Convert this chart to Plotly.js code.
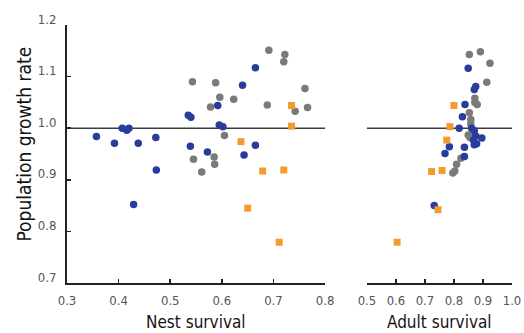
<!DOCTYPE html>
<html>
<head>
<meta charset="utf-8">
<script src="https://cdn.plot.ly/plotly-3.0.1.min.js"></script>
<style>html,body{margin:0;padding:0;background:#fff;}#chart{width:524px;height:333px;}</style>
</head>
<body>
<div id="chart"></div>
<script>
// Nest survival panel
var nestGrayX = [0.691,0.722,0.720,0.543,0.588,0.596,0.623,0.578,0.761,0.688,0.742,0.766,0.605,0.545,0.585,0.586,0.561];
var nestGrayY = [1.151,1.143,1.129,1.090,1.088,1.060,1.056,1.041,1.077,1.045,1.033,1.040,0.986,0.940,0.944,0.930,0.915];
var nestBlueX = [0.357,0.392,0.407,0.420,0.416,0.438,0.472,0.535,0.540,0.592,0.595,0.602,0.640,0.665,0.539,0.572,0.665,0.643,0.473,0.429];
var nestBlueY = [0.984,0.971,1.000,1.000,0.996,0.971,0.982,1.025,1.021,1.044,1.006,1.003,1.083,1.117,0.965,0.954,0.967,0.948,0.919,0.852];
var nestOrangeX = [0.735,0.735,0.637,0.679,0.720,0.650,0.711];
var nestOrangeY = [1.044,1.004,0.974,0.917,0.919,0.845,0.779];

// Adult survival panel
var adultGrayX = [0.853,0.891,0.924,0.913,0.872,0.872,0.880,0.853,0.858,0.858,0.849,0.855,0.824,0.809,0.803,0.796];
var adultGrayY = [1.143,1.148,1.126,1.089,1.058,1.050,1.046,1.030,1.017,1.008,0.987,0.982,0.942,0.930,0.917,0.913];
var adultBlueX = [0.849,0.875,0.870,0.838,0.829,0.818,0.861,0.870,0.875,0.867,0.896,0.878,0.870,0.784,0.769,0.836,0.836,0.732];
var adultBlueY = [1.116,1.081,1.075,1.046,1.022,1.000,1.000,0.995,0.985,0.977,0.981,0.970,0.968,0.964,0.951,0.963,0.945,0.850];
var adultOrangeX = [0.800,0.786,0.775,0.723,0.759,0.745,0.604];
var adultOrangeY = [1.044,1.003,0.977,0.916,0.918,0.842,0.779];

var xTicksNest = [0.3,0.4,0.5,0.6,0.7,0.8];
var xTicksAdult = [0.5,0.6,0.7,0.8,0.9,1.0];
var yTicks = [0.7,0.8,0.9,1.0,1.1,1.2];

var GRAY = '#7a7a78', BLUE = '#283c9c', ORANGE = '#f49b2e';
var FONT = '"Liberation Sans Narrow", "DejaVu Sans Condensed", "Arial Narrow", sans-serif';

function pts(x, y, color, symbol, xa, ya) {
  return {x: x, y: y, type: 'scatter', mode: 'markers', xaxis: xa, yaxis: ya,
    marker: {color: color, symbol: symbol, size: symbol === 'square' ? 7 : 7.5, line: {width: 0}},
    hoverinfo: 'skip'};
}

var data = [
  pts(nestGrayX, nestGrayY, GRAY, 'circle', 'x', 'y'),
  pts(nestBlueX, nestBlueY, BLUE, 'circle', 'x', 'y'),
  pts(nestOrangeX, nestOrangeY, ORANGE, 'square', 'x', 'y'),
  pts(adultGrayX, adultGrayY, GRAY, 'circle', 'x2', 'y2'),
  pts(adultBlueX, adultBlueY, BLUE, 'circle', 'x2', 'y2'),
  pts(adultOrangeX, adultOrangeY, ORANGE, 'square', 'x2', 'y2')
];

var tickFont = {family: FONT, size: 13, color: '#555'};
var titleFont = {family: FONT, size: 17, color: '#141414'};
var yTitleFont = {family: FONT, size: 19, color: '#141414'};

function xax(domain, range, ticks, anchor) {
  return {domain: domain, range: range, anchor: anchor, tickvals: ticks, ticktext: ticks.map(function(v){return v.toFixed(1);}),
    ticks: 'inside', ticklen: 4, tickwidth: 1.5, tickcolor: '#222', showline: true, linecolor: '#222', linewidth: 2,
    showgrid: false, zeroline: false, tickfont: tickFont, ticklabelstandoff: 4, fixedrange: true};
}

var layout = {
  width: 524, height: 333,
  margin: {l: 67, r: 12, t: 25, b: 50},
  paper_bgcolor: '#fff', plot_bgcolor: '#fff',
  showlegend: false,
  xaxis: xax([0, 0.58], [0.3, 0.8], xTicksNest, 'y'),
  xaxis2: xax([0.674, 1], [0.5, 1.0], xTicksAdult, 'y2'),
  yaxis: {domain: [0, 1], range: [0.7, 1.2], anchor: 'x', tickvals: yTicks, ticktext: yTicks.map(function(v){return v.toFixed(1);}),
    ticks: 'inside', ticklen: 4, tickwidth: 1.5, tickcolor: '#222', showline: true, linecolor: '#222', linewidth: 2,
    showgrid: false, zeroline: false, tickfont: tickFont, ticklabelstandoff: 6, ticklabelshift: -6, fixedrange: true},
  yaxis2: {domain: [0, 1], range: [0.7, 1.2], anchor: 'x2', showline: false, showticklabels: false, ticks: '',
    showgrid: false, zeroline: false, fixedrange: true},
  shapes: [
    {type: 'line', xref: 'x domain', x0: 0, x1: 1, yref: 'y', y0: 1, y1: 1, line: {color: '#3c3c3c', width: 1.5}, layer: 'below'},
    {type: 'line', xref: 'x2 domain', x0: 0, x1: 1, yref: 'y2', y0: 1, y1: 1, line: {color: '#3c3c3c', width: 1.5}, layer: 'below'}
  ],
  annotations: [
    {text: 'Nest survival', xref: 'x domain', x: 0.5, yref: 'paper', y: -0.15, xanchor: 'center', yanchor: 'middle', showarrow: false, font: titleFont},
    {text: 'Adult survival', xref: 'x2 domain', x: 0.5, yref: 'paper', y: -0.15, xanchor: 'center', yanchor: 'middle', showarrow: false, font: titleFont},
    {text: 'Population growth rate', xref: 'paper', x: -0.097, yref: 'paper', y: 0.54, xanchor: 'center', yanchor: 'middle', textangle: -90, showarrow: false, font: yTitleFont}
  ]
};

Plotly.newPlot('chart', data, layout, {displayModeBar: false, staticPlot: true});
</script>
</body>
</html>
